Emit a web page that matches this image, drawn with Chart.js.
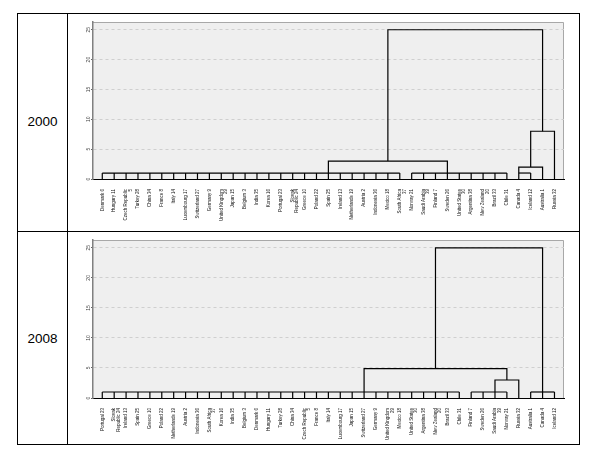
<!DOCTYPE html>
<html><head><meta charset="utf-8">
<script src="https://cdn.jsdelivr.net/npm/chart.js@4.4.0/dist/chart.umd.min.js"></script>
<style>
html,body{margin:0;padding:0;background:#fff;}
body{width:606px;height:457px;position:relative;overflow:hidden;font-family:"Liberation Sans",Arial,sans-serif;}
.ln{position:absolute;background:#000;}
.yr{position:absolute;left:18px;width:49px;text-align:center;font-size:13.5px;line-height:16px;color:#000;}
canvas{position:absolute;left:68px;}
</style></head><body>
<div class="ln" style="left:17px;top:13px;width:563px;height:1px"></div>
<div class="ln" style="left:17px;top:444px;width:563px;height:1px"></div>
<div class="ln" style="left:17px;top:13px;width:1px;height:432px"></div>
<div class="ln" style="left:579px;top:13px;width:1px;height:432px"></div>
<div class="ln" style="left:67px;top:13px;width:1px;height:432px"></div>
<div class="ln" style="left:17px;top:231px;width:563px;height:1px"></div>
<div class="yr" style="top:114px">2000</div>
<div class="yr" style="top:331px">2008</div>
<canvas id="c1" width="510" height="216" style="top:14px"></canvas>
<canvas id="c2" width="510" height="212" style="top:232px"></canvas>
<script>
// ---- data ----
const yTicks = [0, 5, 10, 15, 20, 25];

const labels2000 = ["Denmark 6","Hungary 11",["Czech Republic","5"],"Turkey 28","China 34","France 8","Italy 14","Luxembourg 17","Switzerland 27","Germany 9",["United Kingdom","29"],"Japan 15","Belgium 3","India 35","Korea 16","Portugal 23",["Slovak","Republic 24"],"Greece 10","Poland 22","Spain 25","Ireland 13","Netherlands 19","Austria 2","Indonesia 36","Mexico 18",["South Africa","37"],"Norway 21",["Saudi Arabia","39"],"Finland 7","Sweden 26",["United States","30"],"Argentina 38",["New Zealand","20"],"Brazil 33","Chile 31","Canada 4","Iceland 12","Australia 1","Russia 32"];
// leaf ranges joined at a common low distance
const joinGroups2000 = [[0, 25], [26, 34], [35, 36]];
const joinLevels2000 = [1, 1, 1];
// higher merges: left/right cluster position, their own base heights, merge distance
const mergeLeft2000 = [35, 19, 36, 24];
const mergeRight2000 = [37, 29, 38, 37];
const mergeLeftBase2000 = [1, 1, 2, 3];
const mergeRightBase2000 = [0, 1, 0, 8];
const mergeHeight2000 = [2, 3, 8, 25];

const labels2008 = ["Portugal 23",["Slovak","Republic 24"],"Ireland 13","Spain 25","Greece 10","Poland 22","Netherlands 19","Austria 2","Indonesia 36",["South Africa","37"],"Korea 16","India 35","Belgium 3","Denmark 6","Hungary 11","Turkey 28","China 34",["Czech Republic","5"],"France 8","Italy 14","Luxembourg 17","Japan 15","Switzerland 27","Germany 9",["United Kingdom","29"],"Mexico 18",["United States","30"],"Argentina 38",["New Zealand","20"],"Brazil 33","Chile 31","Finland 7","Sweden 26",["Saudi Arabia","39"],"Norway 21","Russia 32","Australia 1","Canada 4","Iceland 12"];
const joinGroups2008 = [[0, 30], [31, 34], [36, 38]];
const joinLevels2008 = [1, 1, 1];
const mergeLeft2008 = [33, 22, 28];
const mergeRight2008 = [35, 34, 37];
const mergeLeftBase2008 = [1, 1, 4.9];
const mergeRightBase2008 = [0, 3, 1];
const mergeHeight2008 = [3, 4.9, 25];

// ---- drawing ----
const plotFrame = {
  id: 'plotFrame',
  beforeDraw(chart) {
    const {ctx, chartArea: a} = chart;
    ctx.save();
    ctx.fillStyle = '#efefef';
    ctx.fillRect(a.left, a.top, a.right - a.left, a.bottom - a.top);
    ctx.strokeStyle = '#a8a8a8';
    ctx.lineWidth = 1;
    ctx.beginPath();
    ctx.moveTo(a.left, a.top + 0.5);
    ctx.lineTo(a.right - 0.5, a.top + 0.5);
    ctx.lineTo(a.right - 0.5, a.bottom);
    ctx.stroke();
    ctx.restore();
  }
};

function buildDatasets(groups, levels, mL, mR, mLB, mRB, mH) {
  const ds = [];
  const seg = pts => ds.push({
    data: pts.map(p => ({x: p[0], y: p[1]})),
    borderColor: '#000', borderWidth: 1.2, pointRadius: 0, pointHoverRadius: 0,
    fill: false, tension: 0
  });
  groups.forEach((g, k) => {
    for (let i = g[0]; i <= g[1]; i++) seg([[i, 0], [i, levels[k]]]);
    seg([[g[0], levels[k]], [g[1], levels[k]]]);
  });
  mL.forEach((l, k) => seg([[l, mLB[k]], [l, mH[k]], [mR[k], mH[k]], [mR[k], mRB[k]]]));
  return ds;
}

function makeChart(id, labels, datasets, axisH) {
  new Chart(document.getElementById(id), {
    type: 'line',
    data: {datasets},
    plugins: [plotFrame],
    options: {
      responsive: false, animation: false, events: [],
      layout: {padding: {left: 0, top: 8, right: 14, bottom: 0}},
      plugins: {legend: {display: false}, tooltip: {enabled: false}, title: {display: false}},
      scales: {
        x: {
          type: 'linear', bounds: 'data', min: -0.78, max: 38.8,
          afterBuildTicks: s => { s.ticks = labels.map((_, i) => ({value: i})); },
          afterFit: s => { s.height = axisH; },
          grid: {display: false},
          border: {display: true, color: '#000', width: 1},
          ticks: {
            autoSkip: false, minRotation: 90, maxRotation: 90, padding: 2, color: '#111',
            font: {family: 'Liberation Sans', size: 4.5, lineHeight: 1},
            callback: v => labels[v]
          }
        },
        y: {
          type: 'linear', bounds: 'data', min: 0, max: 26.3,
          afterBuildTicks: s => { s.ticks = yTicks.map(v => ({value: v})); },
          afterFit: s => { s.width = 25; },
          grid: {
            color: c => (c.tick && c.tick.value === 0) ? 'rgba(0,0,0,0)' : '#cfcfcf',
            lineWidth: 1, drawTicks: true, tickLength: 2, tickColor: '#666', tickWidth: 1
          },
          border: {display: true, color: '#808080', width: 1.5, dash: [3, 3]},
          ticks: {
            minRotation: 90, maxRotation: 90, crossAlign: 'center', padding: 0, color: '#444',
            font: {family: 'Liberation Sans', size: 5}
          }
        }
      }
    }
  });
}

makeChart('c1', labels2000, buildDatasets(joinGroups2000, joinLevels2000, mergeLeft2000, mergeRight2000, mergeLeftBase2000, mergeRightBase2000, mergeHeight2000), 51);
makeChart('c2', labels2008, buildDatasets(joinGroups2008, joinLevels2008, mergeLeft2008, mergeRight2008, mergeLeftBase2008, mergeRightBase2008, mergeHeight2008), 46);
</script>
</body></html>
